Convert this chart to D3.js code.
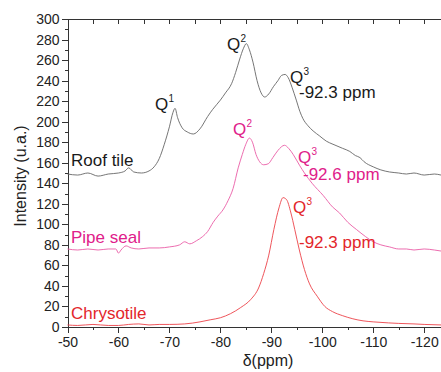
<html>
<head>
<meta charset="utf-8">
<title>29Si NMR spectra</title>
<style>
  body { margin: 0; padding: 0; background: #fff; }
  svg { display: block; }
  text { font-family: "Liberation Sans", Arial, sans-serif; }
  .axis path, .axis line { stroke: #333; stroke-width: 1px; shape-rendering: crispEdges; }
  .axis text { font-size: 14px; fill: #222; }
</style>
<script src="https://cdn.jsdelivr.net/npm/d3@7"></script>
</head>
<body>
<script>
// spectra: [ppm, intensity]
var roofTile = [[-50,149],[-52,148],[-54,150],[-56,147],[-58,149],[-60,150],[-61.3,152],[-62,155],[-63,151],[-64.5,150],[-66,152],
  [-67,156],[-68,164],[-69,178],[-70,195],[-70.7,209],[-71.1,213],[-71.6,204],[-72.5,194],[-73.5,190],[-74.7,188],[-76,193],
  [-77.5,205],[-78.5,212],[-80,221],[-81,228],[-82.2,237],[-83,248],[-83.8,261],[-84.5,271],[-85.1,276],[-85.7,270],[-86.4,258],
  [-87.2,240],[-88,228],[-88.7,224],[-89.5,227],[-90.4,234],[-91.3,240],[-92,245],[-92.7,246],[-93.3,243],[-94.1,233],[-94.9,221],
  [-95.6,210],[-96.2,203],[-97.2,196],[-98.2,191],[-99.5,186],[-100.8,181],[-102.1,178],[-104,174],[-105.4,171],[-106.5,167],
  [-107.4,165],[-108.2,161],[-110,156],[-111.5,153],[-113.2,151],[-115,150],[-116.5,149],[-118,150],[-120,148],[-122,149],[-123.3,148]];
var pipeSeal = [[-50,76],[-52,75],[-54,76],[-56,75],[-58,76],[-59.5,76],[-60,72],[-60.5,75],[-61.5,79],[-62.5,77],[-64,76],[-66,77],
  [-68,77],[-70,78],[-72,80],[-73,83],[-74,81],[-75.3,84],[-76.5,88],[-77.5,93],[-78.6,102],[-79.5,108],[-80.5,114],[-81.5,123],
  [-82.5,135],[-83.5,155],[-84.3,168],[-85,178],[-85.7,184],[-86.3,180],[-87,168],[-87.7,161],[-88.5,158],[-89.4,159],[-90.3,165],
  [-91.3,172],[-92.6,177],[-93.4,174],[-94.3,168],[-95.6,157],[-96.5,150],[-98,140],[-100.2,128],[-102,117],[-103.4,111],[-105,102],
  [-106.7,95],[-108.5,88],[-110,83],[-111.5,80],[-113.2,78],[-115,76],[-116.5,76],[-118,75],[-120,76],[-122,75],[-123.3,74]];
var chrysotile = [[-50,2],[-52,1.5],[-55,2.5],[-58,1.5],[-60,1.5],[-62,2.5],[-64,3],[-66,2],[-68,2.5],[-70,2.5],[-73,3],[-76,5],
  [-78,7],[-80,9],[-82,13],[-84,19],[-86,27],[-87.5,38],[-88.5,52],[-89.5,70],[-90.5,95],[-91.5,116],[-92.3,126],[-93,124],
  [-93.8,112],[-94.6,95],[-95.5,75],[-96.5,56],[-97.5,42],[-99,30],[-100.5,20],[-102,15],[-104,11],[-106,8],[-108,6],[-110,5],
  [-113,4],[-115,3.5],[-118,3],[-120,2.5],[-123.3,2]];

var xTicks = [-50, -60, -70, -80, -90, -100, -110, -120];
var yTicks = [0, 20, 40, 60, 80, 100, 120, 140, 160, 180, 200, 220, 240, 260, 280, 300];

var W = 441, H = 372;
var svg = d3.select("body").append("svg").attr("width", W).attr("height", H);

var x = d3.scaleLinear().domain([-50, -123.3]).range([67.5, 441]);
var y = d3.scaleLinear().domain([0, 300]).range([327, 19]);

// minor ticks
var xMinor = d3.range(-55, -124, -10);
var yMinor = d3.range(10, 300, 20);
var plain = function(d){ return String(d); };

svg.append("g").attr("class", "axis").attr("transform", "translate(0,327)")
  .call(d3.axisBottom(x).tickValues(xTicks).tickFormat(plain).tickSizeOuter(0).tickSize(6).tickPadding(4));
svg.append("g").attr("class", "axis").attr("transform", "translate(0,327)")
  .call(d3.axisBottom(x).tickValues(xMinor).tickFormat("").tickSizeOuter(0).tickSize(3));
svg.append("g").attr("class", "axis").attr("transform", "translate(0,19)")
  .call(d3.axisTop(x).tickValues(xTicks.concat(xMinor)).tickFormat("").tickSizeOuter(0).tickSize(-5));
svg.append("g").attr("class", "axis").attr("transform", "translate(67.5,0)")
  .call(d3.axisLeft(y).tickValues(yTicks).tickFormat(plain).tickSizeOuter(0).tickSize(6).tickPadding(2));
svg.append("g").attr("class", "axis").attr("transform", "translate(67.5,0)")
  .call(d3.axisLeft(y).tickValues(yMinor).tickFormat("").tickSizeOuter(0).tickSize(3));

var line = d3.line().x(function(d){ return x(d[0]); }).y(function(d){ return y(d[1]); }).curve(d3.curveMonotoneX);

var series = [
  {data: roofTile, color: "#666666"},
  {data: pipeSeal, color: "#ea5ca6"},
  {data: chrysotile, color: "#ec4248"}
];
svg.selectAll("path.spec").data(series).enter().append("path").attr("class", "spec")
  .attr("d", function(d){ return line(d.data); })
  .attr("fill", "none").attr("stroke", function(d){ return d.color; }).attr("stroke-width", 0.9);

// annotations
function label(t, px, py, size, color) {
  return svg.append("text").attr("x", px).attr("y", py).attr("font-size", size).attr("fill", color).text(t);
}
function q(n, px, py, color) {
  label("Q", px, py, 17, color);
  label(n, px + 13.5, py - 8, 10, color);
}
label("Roof tile", 71, 166, 17, "#1a1a1a");
label("Pipe seal", 71, 243, 17, "#e0208a");
label("Chrysotile", 71, 319, 17, "#e3262b");

q("1", 155, 110, "#1a1a1a");
q("2", 227, 50, "#1a1a1a");
q("3", 290, 83, "#1a1a1a");
label("-92.3 ppm", 299, 98, 17, "#1a1a1a");

q("2", 233, 135, "#e0208a");
q("3", 298, 163, "#e0208a");
label("-92.6 ppm", 303, 180, 17, "#e0208a");

q("3", 293, 213, "#e3262b");
label("-92.3 ppm", 299, 248, 17, "#e3262b");

svg.append("text").attr("transform", "translate(26,176) rotate(-90)").attr("text-anchor", "middle")
  .attr("font-size", 16).attr("fill", "#222").text("Intensity (u.a.)");
svg.append("text").attr("x", 268).attr("y", 366).attr("text-anchor", "middle")
  .attr("font-size", 16).attr("fill", "#222").text("δ(ppm)");
</script>
</body>
</html>
